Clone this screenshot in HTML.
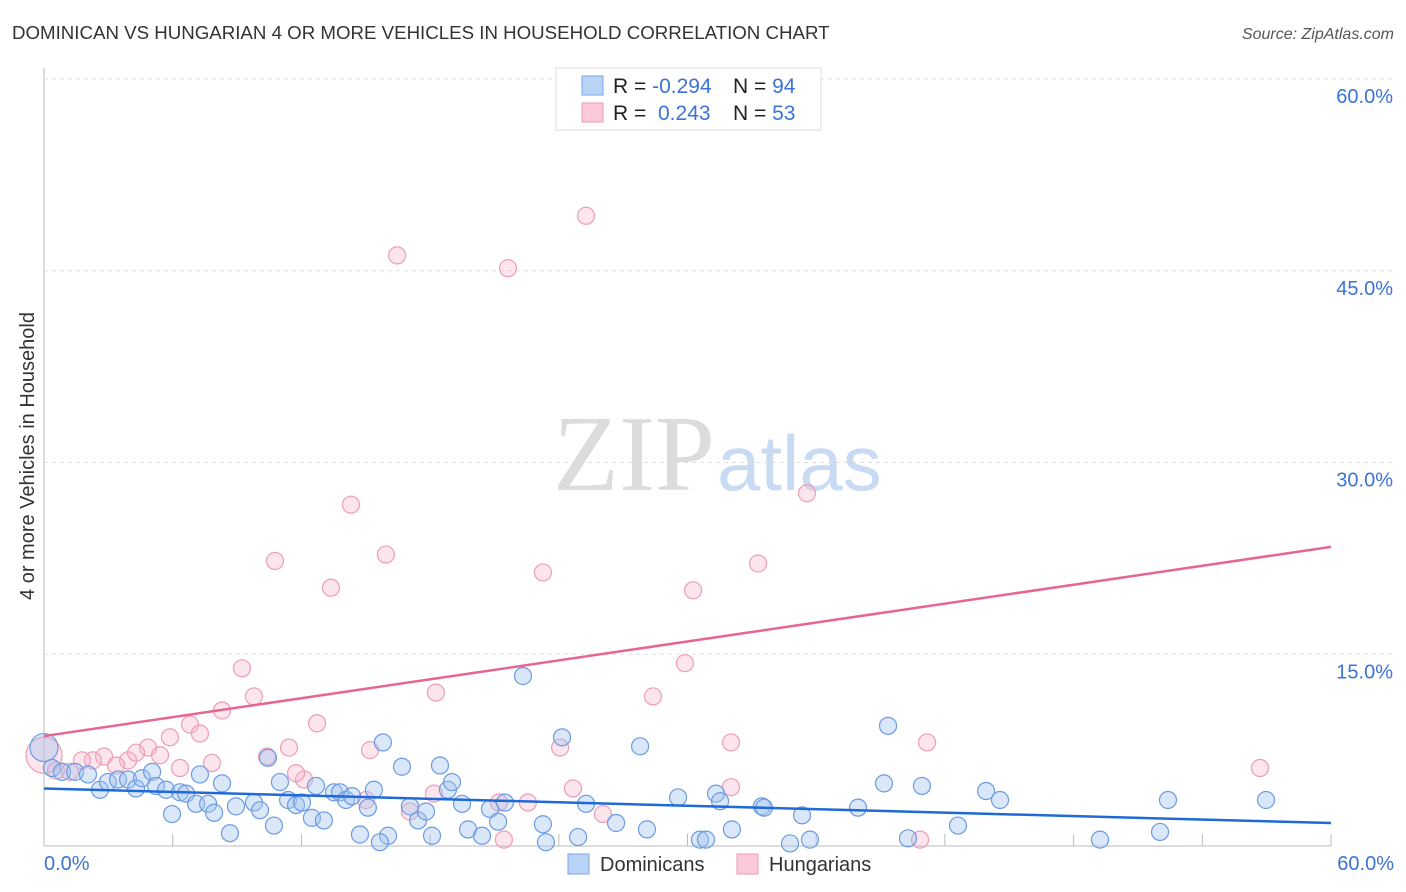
<!DOCTYPE html>
<html><head><meta charset="utf-8"><style>
body{margin:0;background:#fff;font-family:"Liberation Sans",sans-serif;}
svg{display:block}
</style></head><body>
<svg id="chart" width="1406" height="892">
<text x="12" y="39" font-size="18.7" fill="#333">DOMINICAN VS HUNGARIAN 4 OR MORE VEHICLES IN HOUSEHOLD CORRELATION CHART</text>
<text x="1394" y="39" font-size="16" fill="#555" font-style="italic" text-anchor="end">Source: ZipAtlas.com</text>
<g>
<text x="553" y="490" font-family="Liberation Serif,serif" font-size="108" fill="#dcdcdc">ZIP</text>
<text x="717" y="490" font-size="78" fill="#c9dbf3">atlas</text>
</g>
<g id="grid"></g>
<g id="ticks"></g>
<g id="pts"></g>
<g id="lines"></g>
<text transform="translate(34,456) rotate(-90)" font-size="20" fill="#333" text-anchor="middle">4 or more Vehicles in Household</text>
<text x="44" y="870" font-size="20" fill="#3b73d6">0.0%</text>
<text x="1394" y="870" font-size="20" fill="#3b73d6" text-anchor="end">60.0%</text>
<g>
<rect x="556" y="68" width="265" height="62" fill="#fff" stroke="#ddd"/>
<rect x="582" y="76" width="21" height="19" fill="#b9d3f5" stroke="#7aa6e6"/>
<rect x="582" y="103" width="21" height="19" fill="#fbc9d7" stroke="#ee9ab2"/>
<text x="613" y="93" font-size="21" fill="#222">R = <tspan fill="#3b73d6">-0.294</tspan></text>
<text x="733" y="93" font-size="21" fill="#222">N = <tspan fill="#3b73d6">94</tspan></text>
<text x="613" y="120" font-size="21" fill="#222">R = <tspan fill="#3b73d6" x="658">0.243</tspan></text>
<text x="733" y="120" font-size="21" fill="#222">N = <tspan fill="#3b73d6">53</tspan></text>
</g>
<g>
<rect x="568" y="854" width="21" height="20" fill="#b9d3f5" stroke="#7aa6e6"/>
<text x="600" y="871" font-size="20" fill="#333">Dominicans</text>
<rect x="737" y="854" width="21" height="20" fill="#fbc9d7" stroke="#ee9ab2"/>
<text x="769" y="871" font-size="20" fill="#333">Hungarians</text>
</g>
</svg>
<script>
const yTicks=[15,30,45,60];
const yTickLabels=["15.0%","30.0%","45.0%","60.0%"];
const xTickVals=[0,6,12,18,24,30,36,42,48,54,60];
const blueX=[0.37,0.84,1.45,2.05,2.61,2.98,3.45,3.92,4.29,4.57,5.04,5.22,5.69,5.97,6.34,6.62,7.09,7.27,7.65,7.93,8.3,8.67,8.95,9.79,10.07,10.44,10.72,11.0,11.38,11.75,12.03,12.49,12.68,13.05,13.52,13.8,14.08,14.36,14.73,15.1,15.38,15.8,16.04,16.69,17.06,17.44,17.81,18.09,18.46,18.83,19.02,19.49,19.77,20.42,20.79,21.17,21.49,22.33,23.26,24.15,24.9,25.27,26.67,27.79,28.11,29.56,30.58,31.33,31.52,32.07,30.86,33.47,33.57,35.34,35.71,34.78,37.95,39.35,39.16,40.28,40.93,42.61,43.92,44.57,49.23,52.03,52.4,56.97,15.66,23.4];
const blueY=[6.1,5.8,5.8,5.6,4.4,5.0,5.2,5.2,4.5,5.3,5.8,4.7,4.4,2.5,4.2,4.1,3.3,5.6,3.3,2.6,4.9,1.0,3.1,3.4,2.8,6.9,1.6,5.0,3.6,3.2,3.4,2.2,4.7,2.0,4.2,4.2,3.6,3.9,0.9,3.0,4.4,8.1,0.8,6.2,3.1,2.0,2.7,0.8,6.3,4.4,5.0,3.3,1.3,0.8,2.9,1.9,3.4,13.3,1.7,8.5,0.7,3.3,1.8,7.8,1.3,3.8,0.5,4.1,3.5,1.3,0.5,3.1,3.0,2.4,0.5,0.2,3.0,9.4,4.9,0.6,4.7,1.6,4.3,3.6,0.5,1.1,3.6,3.6,0.3,0.3];
const pinkX=[25.27,16.46,21.63,14.31,35.57,15.94,10.77,23.26,33.29,13.38,30.26,29.88,9.23,28.39,18.27,9.79,8.3,12.73,6.81,7.27,4.85,5.87,3.92,4.29,5.41,2.8,3.36,2.28,1.77,0.56,1.21,6.34,7.83,10.4,11.42,12.12,15.2,24.06,32.03,41.17,56.69,18.18,24.66,32.03,21.21,22.56,17.06,26.06,15.01,11.75,21.44,40.84];
const pinkY=[49.3,46.2,45.2,26.7,27.6,22.8,22.3,21.4,22.1,20.2,20.0,14.3,13.9,11.7,12.0,11.7,10.6,9.6,9.5,8.8,7.7,8.5,6.7,7.3,7.1,7.0,6.3,6.7,6.7,5.9,5.8,6.1,6.5,7.0,7.7,5.2,7.5,7.7,8.1,8.1,6.1,4.1,4.5,4.6,3.4,3.4,2.7,2.5,3.6,5.7,0.5,0.5];
const blueBig=[0,7.7];
const pinkBig=[0,7.1];
const blueTrend=[4.5,1.8];
const pinkTrend=[8.6,23.4];
const X=v=>44+v*(1331-44)/60;
const Y=v=>846-v*(846-79)/60;
const NS="http://www.w3.org/2000/svg";
function mk(tag,attrs,parent){const e=document.createElementNS(NS,tag);for(const k in attrs)e.setAttribute(k,attrs[k]);document.getElementById(parent).appendChild(e);return e;}
let ax=mk('line',{x1:44,y1:68,x2:44,y2:846,stroke:'#bbb'},'grid');


let bx=mk('line',{x1:44,y1:846,x2:1331,y2:846,stroke:'#bbb'},'grid');


yTicks.forEach((t,i)=>{
 const g=mk('line',{x1:44,y1:Y(t),x2:1394,y2:Y(t),stroke:'#ddd','stroke-dasharray':'4,4'},'grid');
 
 
 const l=mk('text',{x:1393,y:Y(t)+24,'font-size':20,fill:'#3b73d6','text-anchor':'end'},'ticks');
 l.textContent=yTickLabels[i];
 
 
});
xTickVals.forEach(v=>{
 const t=mk('line',{x1:X(v),y1:834,x2:X(v),y2:846,stroke:'#bbb'},'ticks');
 
 
});
function dot(x,y,r,cls){
 const f=cls==='b'?'rgba(160,196,240,0.4)':'rgba(248,180,202,0.35)';
 const s=cls==='b'?'#6b9be3':'#ee9db6';
 const c=mk('circle',{cx:X(x),cy:Y(y),r:r,fill:f,stroke:s,'stroke-width':1.2},'pts');
 
 
}
dot(pinkBig[0],pinkBig[1],18,'p');
dot(blueBig[0],blueBig[1],14,'b');
pinkX.forEach((x,i)=>dot(x,pinkY[i],8.5,'p'));
blueX.forEach((x,i)=>dot(x,blueY[i],8.5,'b'));
const bl=mk('line',{x1:X(0),y1:Y(blueTrend[0]),x2:X(60),y2:Y(blueTrend[1]),stroke:'#1f6ad8','stroke-width':2.5},'lines');


const pl=mk('line',{x1:X(0),y1:Y(pinkTrend[0]),x2:X(60),y2:Y(pinkTrend[1]),stroke:'#e66592','stroke-width':2.5},'lines');


</script>
</body></html>
